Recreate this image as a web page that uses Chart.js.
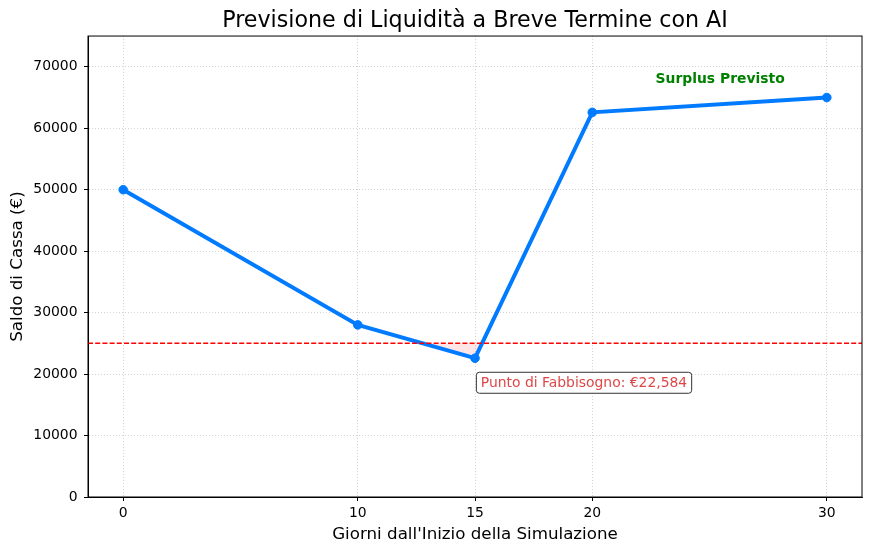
<!DOCTYPE html>
<html>
<head>
<meta charset="utf-8">
<script src="https://cdn.jsdelivr.net/npm/chart.js@4"></script>
<style>
  html, body { margin: 0; padding: 0; background: #fff; }
  canvas { display: block; }
</style>
</head>
<body>
<canvas id="myChart" width="872" height="555"></canvas>
<script>
// values
const days = [0, 10, 15, 20, 30];
const balance = [50000, 28000, 22584, 62584, 65000];
const threshold = 25000;
const xTicks = [0, 10, 15, 20, 30];
const yTicks = [0, 10000, 20000, 30000, 40000, 50000, 60000, 70000];
const xRange = [-1.5, 31.5];
const yRange = [0, 75000];

const lineColor = '#007bff';
const gridColor = '#c8c8c8';

Chart.defaults.font.family = "'DejaVu Sans', sans-serif";
Chart.defaults.color = '#000';

// lowest point gets the red label, last stretch the green one
const minIdx = balance.indexOf(Math.min(...balance));
const fabbisognoText = 'Punto di Fabbisogno: €' + balance[minIdx].toLocaleString('en-US');

const labelsPlugin = {
    id: 'labels',
    afterDatasetsDraw(chart) {
        const { ctx, scales: { x, y } } = chart;

        // red boxed label under the minimum
        ctx.save();
        ctx.font = "13.9px 'DejaVu Sans'";
        const tx = x.getPixelForValue(days[minIdx] + 0.25);
        const ty = y.getPixelForValue(balance[minIdx] - 4000);
        const w = ctx.measureText(fabbisognoText).width;
        const padX = 4.5, h = 21;
        ctx.beginPath();
        ctx.roundRect(tx - padX, ty - h / 2, w + padX * 2, h, 3);
        ctx.fillStyle = '#fff';
        ctx.fill();
        ctx.lineWidth = 1;
        ctx.strokeStyle = '#333';
        ctx.stroke();
        ctx.fillStyle = 'rgba(220, 60, 60, 0.95)';
        ctx.textAlign = 'left';
        ctx.textBaseline = 'middle';
        ctx.fillText(fabbisognoText, tx, ty + 0.5);

        // green label above the surplus
        ctx.font = "bold 13.9px 'DejaVu Sans'";
        ctx.fillStyle = 'green';
        ctx.textAlign = 'center';
        ctx.fillText('Surplus Previsto', x.getPixelForValue(25.45), y.getPixelForValue(68000));
        ctx.restore();
    },
    afterDraw(chart) {
        // matplotlib style full frame
        const { ctx, chartArea } = chart;
        ctx.save();
        ctx.strokeStyle = '#000';
        ctx.lineWidth = 1;
        ctx.strokeRect(chartArea.left, chartArea.top,
            chartArea.right - chartArea.left, chartArea.bottom - chartArea.top);
        ctx.restore();
    }
};

const data = {
    datasets: [{
        label: 'Saldo',
        data: days.map((d, i) => ({ x: d, y: balance[i] })),
        borderColor: lineColor,
        backgroundColor: lineColor,
        borderWidth: 4,
        pointRadius: 4.3,
        pointBorderWidth: 1,
        pointBorderColor: lineColor,
        pointBackgroundColor: lineColor,
        tension: 0,
        fill: {
            target: { value: threshold },
            above: 'rgba(0,0,0,0)',
            below: 'rgba(255,0,0,0.1)'
        },
        order: 1
    }, {
        label: 'Soglia',
        data: xRange.map(v => ({ x: v, y: threshold })),
        borderColor: '#ff0000',
        backgroundColor: '#ff0000',
        borderWidth: 1.5,
        borderDash: [5, 2.2],
        pointRadius: 0,
        fill: false,
        order: 0
    }]
};

const config = {
    type: 'line',
    data,
    options: {
        responsive: false,
        animation: false,
        layout: { padding: { left: 0, right: 10, top: 0, bottom: 0 } },
        plugins: {
            legend: { display: false },
            tooltip: { enabled: false },
            title: {
                display: true,
                fullSize: false,
                text: 'Previsione di Liquidità a Breve Termine con AI',
                font: { size: 22.2, weight: 'normal' },
                color: '#000',
                padding: { top: 8, bottom: 1.4 }
            }
        },
        scales: {
            x: {
                type: 'linear',
                min: xRange[0],
                max: xRange[1],
                afterBuildTicks: (scale) => { scale.ticks = xTicks.map(v => ({ value: v })); },
                afterFit: (scale) => { scale.height = 58; },
                ticks: {
                    font: { size: 13.9 },
                    color: '#000',
                    padding: 4.2,
                    maxRotation: 0,
                    callback: (v) => String(v)
                },
                grid: {
                    color: gridColor,
                    lineWidth: 0.8,
                    tickColor: '#000',
                    tickLength: 4,
                    tickWidth: 1
                },
                border: { color: '#000', width: 1, dash: [1, 2] },
                title: {
                    display: true,
                    text: "Giorni dall'Inizio della Simulazione",
                    font: { size: 16.7 },
                    color: '#000',
                    padding: { top: 0, bottom: 10 }
                }
            },
            y: {
                min: yRange[0],
                max: yRange[1],
                afterBuildTicks: (scale) => { scale.ticks = yTicks.map(v => ({ value: v })); },
                afterFit: (scale) => { scale.width = 88; },
                ticks: {
                    font: { size: 13.9 },
                    color: '#000',
                    padding: 6.5,
                    callback: (v) => String(v)
                },
                grid: {
                    color: gridColor,
                    lineWidth: 0.8,
                    tickColor: '#000',
                    tickLength: 4,
                    tickWidth: 1
                },
                border: { color: '#000', width: 1, dash: [1, 2] },
                title: {
                    display: true,
                    text: 'Saldo di Cassa (€)',
                    font: { size: 16.7 },
                    color: '#000',
                    padding: { top: 8, bottom: 0 }
                }
            }
        }
    },
    plugins: [labelsPlugin]
};

const myChart = new Chart(document.getElementById('myChart'), config);
</script>
</body>
</html>
